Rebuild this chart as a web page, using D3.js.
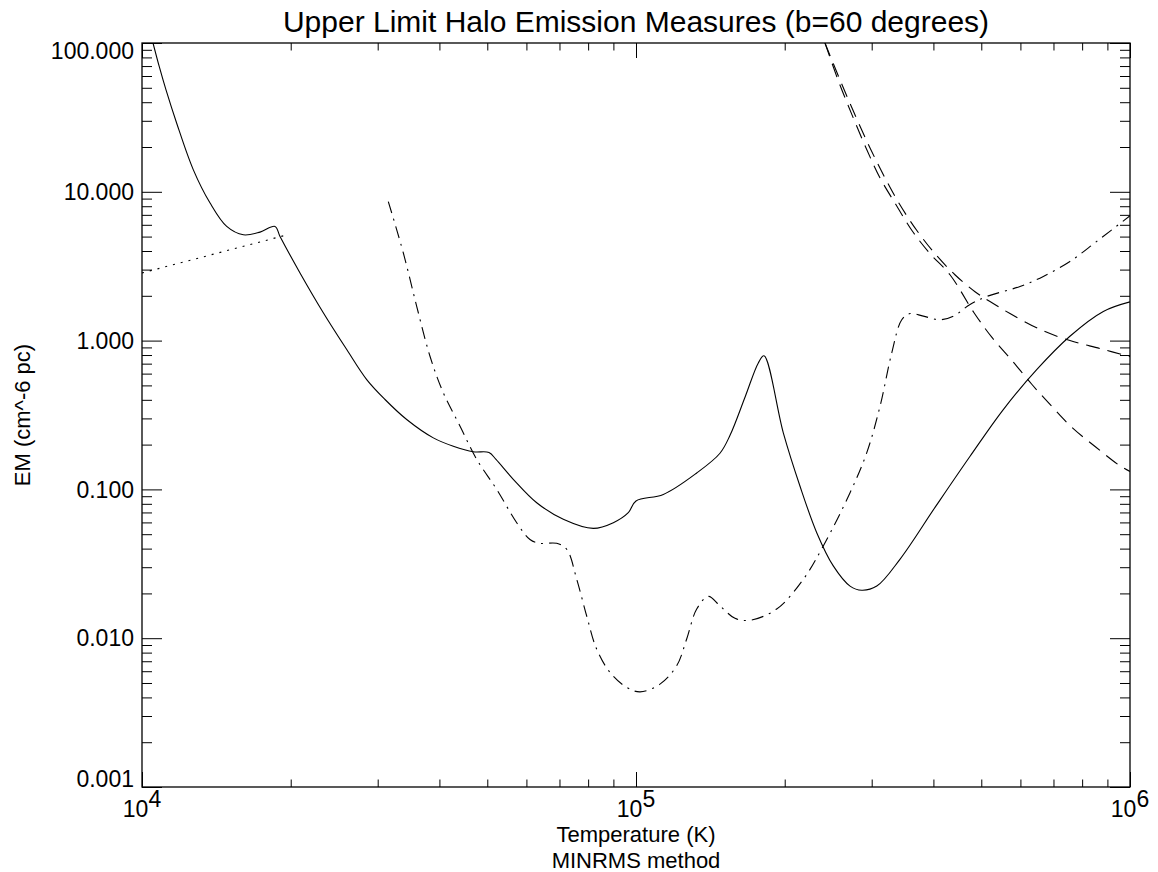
<!DOCTYPE html>
<html>
<head>
<meta charset="utf-8">
<script src="https://cdn.jsdelivr.net/npm/d3@7"></script>
<style>
  body { margin: 0; background: #fff; }
  svg { display: block; font-family: "Liberation Sans", Arial, Helvetica, sans-serif; }
</style>
</head>
<body>
<svg id="chart" width="1158" height="872"></svg>
<script>
var WIDTH = 1158, HEIGHT = 872;
var LEFT = 142, RIGHT = 1130, TOP = 43, BOTTOM = 787;

// temperature (K) and emission measure (cm^-6 pc)
var solidT = [10527, 10839, 11184, 11755, 12698, 13734, 14841, 16039, 17336, 18588,
  19029, 20886, 23281, 25969, 28503, 31040, 34340, 38881, 42680, 46850,
  50400, 52070, 56440, 62950, 71260, 81960, 89980, 96470, 100000, 113580,
  132710, 147900, 155000, 166500, 176850, 181600, 198700, 214800, 232200, 250800,
  271200, 286400, 307200, 342200, 403000, 474500, 554000, 647300, 755700, 883100, 1000000];
var solidEM = [100, 69.3, 48.4, 28.9, 14.1, 8.4, 5.85, 5.14, 5.36, 5.85,
  5.01, 2.85, 1.54, 0.871, 0.547, 0.402, 0.295, 0.222, 0.195, 0.179,
  0.177, 0.159, 0.117, 0.0814, 0.063, 0.0547, 0.0598, 0.0698, 0.0836, 0.0925,
  0.129, 0.175, 0.231, 0.423, 0.708, 0.79, 0.240, 0.105, 0.0512, 0.0306,
  0.0224, 0.021, 0.0224, 0.0339, 0.0757, 0.167, 0.344, 0.638, 1.07, 1.57, 1.82];

var dottedT = [10000, 19680];
var dottedEM = [2.85, 5.14];

var dashDotT = [31520, 33810, 35980, 38280, 40730, 44040, 47600, 52240, 57350, 61010,
  63930, 69100, 72390, 75860, 79470, 83260, 88600, 95770, 101900, 111840,
  120870, 126610, 132710, 140130, 147910, 158620, 170110, 192660, 218180, 239400,
  271200, 293100, 311900, 329400, 345100, 358700, 381600, 412500, 438900, 474500,
  512900, 598800, 667600, 755700, 856200, 1000000];
var dashDotEM = [8.6, 3.88, 1.70, 0.785, 0.446, 0.266, 0.159, 0.100, 0.0597, 0.0461,
  0.0434, 0.0434, 0.0396, 0.0249, 0.0141, 0.00843, 0.00589, 0.00467, 0.00436, 0.00491,
  0.00652, 0.00984, 0.0157, 0.0191, 0.0165, 0.0136, 0.0132, 0.0157, 0.0249, 0.0417,
  0.095, 0.176, 0.362, 0.827, 1.38, 1.52, 1.46, 1.38, 1.46, 1.75,
  1.98, 2.31, 2.70, 3.40, 4.64, 6.9];

var dashedAT = [241300, 258800, 277500, 297700, 319200, 342200, 370600, 403000, 442200, 485600,
  520700, 571600, 657300, 755700, 869600, 1000000];
var dashedAEM = [100, 56.5, 32.9, 19.7, 12.4, 8.18, 5.47, 3.84, 2.77, 2.13,
  1.83, 1.52, 1.19, 1.00, 0.884, 0.78];

var dashedBT = [241300, 256400, 273700, 292200, 311900, 336000, 362200, 393700, 432100, 483300,
  525500, 576900, 633300, 695200, 763000, 853500, 954500, 1000000];
var dashedBEM = [100, 56.5, 32.9, 19.7, 12.4, 8.18, 5.47, 3.84, 2.77, 1.54,
  1.05, 0.734, 0.507, 0.360, 0.261, 0.192, 0.144, 0.132];

var xMajor = [1e4, 1e5, 1e6];
var xExponents = ['4', '5', '6'];
var yMajor = [1e-3, 1e-2, 1e-1, 1, 10, 100];
var yTickLabels = ['0.001', '0.010', '0.100', '1.000', '10.000', '100.000'];

var titleText = 'Upper Limit Halo Emission Measures (b=60 degrees)';
var xTitle = 'Temperature (K)';
var xSubTitle = 'MINRMS method';
var yTitle = 'EM (cm^-6 pc)';

var svg = d3.select('#chart');

var x = d3.scaleLog().domain([1e4, 1e6]).range([LEFT, RIGHT]);
var y = d3.scaleLog().domain([1e-3, 1e2]).range([BOTTOM, TOP]);

var minorTicks = function (majors) {
  var out = [];
  for (var i = 0; i < majors.length - 1; i++) {
    for (var k = 2; k <= 9; k++) out.push(majors[i] * k);
  }
  return out;
};
var xMinor = minorTicks(xMajor);
var yMinor = minorTicks(yMajor);

// IDL style: ticks point inwards on all four sides
var Y_MAJ = 20, Y_MIN = 10, X_MAJ = 15, X_MIN = 7.5;

var drawAxis = function (axis, transform) {
  var g = svg.append('g').attr('transform', transform).call(axis);
  g.select('.domain').remove();
  g.selectAll('line').attr('stroke', '#000').attr('stroke-width', 1);
  g.selectAll('text').remove();
  return g;
};

drawAxis(d3.axisLeft(y).tickValues(yMajor).tickSize(-Y_MAJ), 'translate(' + LEFT + ',0)');
drawAxis(d3.axisLeft(y).tickValues(yMinor).tickSize(-Y_MIN), 'translate(' + LEFT + ',0)');
drawAxis(d3.axisRight(y).tickValues(yMajor).tickSize(-Y_MAJ), 'translate(' + RIGHT + ',0)');
drawAxis(d3.axisRight(y).tickValues(yMinor).tickSize(-Y_MIN), 'translate(' + RIGHT + ',0)');
drawAxis(d3.axisBottom(x).tickValues(xMajor).tickSize(-X_MAJ), 'translate(0,' + BOTTOM + ')');
drawAxis(d3.axisBottom(x).tickValues(xMinor).tickSize(-X_MIN), 'translate(0,' + BOTTOM + ')');
drawAxis(d3.axisTop(x).tickValues(xMajor).tickSize(-X_MAJ), 'translate(0,' + TOP + ')');
drawAxis(d3.axisTop(x).tickValues(xMinor).tickSize(-X_MIN), 'translate(0,' + TOP + ')');

svg.append('rect')
    .attr('x', LEFT).attr('y', TOP)
    .attr('width', RIGHT - LEFT).attr('height', BOTTOM - TOP)
    .attr('fill', 'none').attr('stroke', '#000').attr('stroke-width', 1.3);

// curves
svg.append('clipPath').attr('id', 'plotclip')
  .append('rect').attr('x', LEFT).attr('y', TOP)
  .attr('width', RIGHT - LEFT).attr('height', BOTTOM - TOP);

var line = d3.line()
    .curve(d3.curveCatmullRom.alpha(0.5))
    .x(function (d) { return x(d[0]); })
    .y(function (d) { return y(d[1]); });

var series = [
  {t: solidT, em: solidEM, dash: null},
  {t: dottedT, em: dottedEM, dash: '2,6'},
  {t: dashDotT, em: dashDotEM, dash: '12,6,2,6'},
  {t: dashedAT, em: dashedAEM, dash: '14,8'},
  {t: dashedBT, em: dashedBEM, dash: '14,8'}
];

var curves = svg.append('g').attr('clip-path', 'url(#plotclip)');
series.forEach(function (s) {
  var pts = s.t.map(function (t, i) { return [t, s.em[i]]; });
  curves.append('path')
      .attr('d', line(pts))
      .attr('fill', 'none')
      .attr('stroke', '#000')
      .attr('stroke-width', 1.1)
      .attr('stroke-dasharray', s.dash);
});

// tick labels
svg.selectAll('text.ylab').data(yMajor).enter().append('text')
    .attr('class', 'ylab')
    .attr('x', LEFT - 8)
    .attr('y', function (d) { return Math.min(Math.max(y(d), TOP + 8), BOTTOM - 8); })
    .attr('dy', '0.36em')
    .attr('text-anchor', 'end')
    .style('font-size', '23px')
    .text(function (d, i) { return yTickLabels[i]; });

var xl = svg.selectAll('text.xlab').data(xMajor).enter().append('text')
    .attr('class', 'xlab')
    .attr('x', function (d) { return x(d); })
    .attr('y', 817)
    .attr('text-anchor', 'middle')
    .style('font-size', '23px');
xl.append('tspan').text('10');
xl.append('tspan').attr('dy', -10).text(function (d, i) { return xExponents[i]; });

// titles
svg.append('text')
    .attr('x', (LEFT + RIGHT) / 2).attr('y', 32)
    .attr('text-anchor', 'middle')
    .style('font-size', '30px')
    .text(titleText);

svg.append('text')
    .attr('x', (LEFT + RIGHT) / 2).attr('y', 842)
    .attr('text-anchor', 'middle')
    .style('font-size', '22px')
    .text(xTitle);

svg.append('text')
    .attr('x', (LEFT + RIGHT) / 2).attr('y', 868)
    .attr('text-anchor', 'middle')
    .style('font-size', '22px')
    .text(xSubTitle);

svg.append('text')
    .attr('transform', 'translate(30,' + ((TOP + BOTTOM) / 2) + ') rotate(-90)')
    .attr('text-anchor', 'middle')
    .style('font-size', '22px')
    .text(yTitle);
</script>
</body>
</html>
